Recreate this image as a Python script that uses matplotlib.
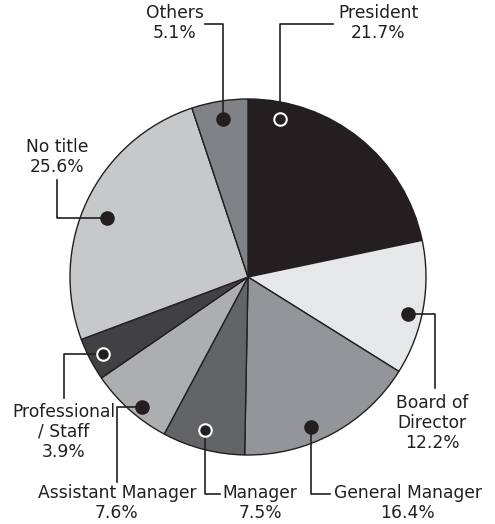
import numpy as np
import matplotlib.pyplot as plt

# data, clockwise from 12 o'clock
labels = ['President', 'Board of\nDirector', 'General Manager', 'Manager',
          'Assistant Manager', 'Professional\n/ Staff', 'No title', 'Others']
shares = [21.7, 12.2, 16.4, 7.5, 7.6, 3.9, 25.6, 5.1]
colors = ['#231f20', '#e6e7e8', '#939598', '#636466',
          '#adaeb0', '#414042', '#c7c8ca', '#808285']

W, H = 495, 524

# label layout in pixel coords: marker, leader path, text centre, dark slice?
layout = [
    ((280, 119), [(280, 24), (333, 24)], (378, 23), True),
    ((408, 314), [(435, 314), (435, 388)], (432, 423), False),
    ((311, 427), [(311, 494), (330, 494)], (408, 503), False),
    ((205, 430), [(205, 494), (220, 494)], (260, 503), True),
    ((142, 407), [(117, 407), (117, 482)], (117, 503), False),
    ((103, 354), [(64, 354), (64, 398)], (64, 432), True),
    ((107, 218), [(57, 218), (57, 180)], (57, 157), False),
    ((223, 119), [(223, 24), (205, 24)], (175, 23), False),
]


def py(y):
    # pixel row -> data y (y up)
    return H - y


fig = plt.figure(figsize=(W / 100, H / 100), dpi=100)
ax = fig.add_axes([0, 0, 1, 1])

ax.pie(shares, colors=colors, startangle=90, counterclock=False,
       center=(248, py(277)), radius=178,
       wedgeprops=dict(edgecolor='#231f20', linewidth=1.0))

for lab, val, (mk, path, txt, dark) in zip(labels, shares, layout):
    xs = [mk[0]] + [p[0] for p in path]
    ys = [py(mk[1])] + [py(p[1]) for p in path]
    ax.plot(xs, ys, color='#231f20', lw=1.2, zorder=3)
    ax.plot(mk[0], py(mk[1]), 'o', ms=9, mfc='#231f20',
            mec='white' if dark else '#231f20', mew=1.5, zorder=4)
    ax.text(txt[0], py(txt[1]), '%s\n%.1f%%' % (lab, val), ha='center',
            va='center', fontsize=12.3, color='#231f20', linespacing=1.12)

ax.set_xlim(0, W)
ax.set_ylim(0, H)
ax.set_aspect('equal')
ax.axis('off')

fig.savefig('out.png', dpi=100)
